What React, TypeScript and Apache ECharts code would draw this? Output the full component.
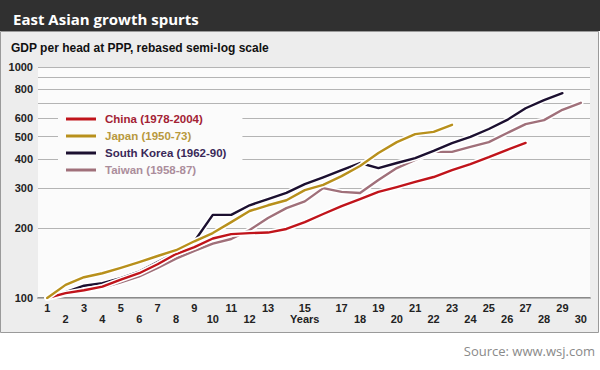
import React, { useEffect, useRef } from "react";
import * as echarts from "echarts";

const years = ["1","2","3","4","5","6","7","8","9","10","11","12","13","14","15","16","17","18","19","20","21","22","23","24","25","26","27","28","29","30"];

const china = [100,105,108,112,120,128,140,155,166,181,189,191,192,199,213,231,250,268,288,302,318,334,358,380,407,438,469];
const japan = [100,114,123,128,135,143,152,161,176,191,213,238,252,265,293,309,337,373,424,473,512,524,562];
const southKorea = [100,106,113,116,122,130,143,157,176,229,229,252,268,285,311,333,358,384,365,384,403,433,468,498,539,590,663,719,770];
const taiwan = [100,104,108,111,117,124,135,148,160,172,180,197,222,245,262,299,288,285,324,365,396,429,429,451,473,518,566,589,653,700];

const gridValues = [100,200,300,400,500,600,700,800,900,1000];
const labelledValues = [100,200,300,400,500,600,800,1000];

const seriesNames = ["China (1978-2004)","Japan (1950-73)","South Korea (1962-90)","Taiwan (1958-87)"];
const lineColors = ["#c0141b","#b8901c","#1c1030","#a0707a"];
const legendTextColors = ["#a32234","#b8993e","#3a2858","#ab8d9b"];

export default function App() {
  const ref = useRef<HTMLDivElement>(null);
  useEffect(() => {
    if (!ref.current) return;
    const chart = echarts.init(ref.current, null, { renderer: "svg" });
    const font = "Liberation Sans";
    const datasets = [taiwan, southKorea, china, japan];
    const idx = [3, 2, 0, 1];
    const series: any[] = [
      {
        name: "gridlines",
        type: "line",
        data: [],
        z: 1,
        silent: true,
        markLine: {
          z: 1,
          silent: true,
          symbol: ["none", "none"],
          animation: false,
          lineStyle: { color: "#b4b4b4", width: 1, type: "solid" },
          label: {
            position: "start",
            distance: 5,
            color: "#222",
            fontWeight: "bold",
            fontSize: 11,
            fontFamily: font,
            formatter: (p: any) => (labelledValues.indexOf(p.value) >= 0 ? String(p.value) : ""),
          },
          emphasis: { disabled: true },
          data: gridValues.map((v) => ({ yAxis: v })),
        },
      },
    ];
    datasets.forEach((d, k) => {
      const i = idx[k];
      series.push({
        name: seriesNames[i] + " halo",
        type: "line",
        data: d,
        z: 2 + k * 2,
        silent: true,
        showSymbol: false,
        symbol: "none",
        lineStyle: { color: "#ffffff", width: 5.5, cap: "round", join: "round" },
        itemStyle: { color: "#ffffff" },
      });
      series.push({
        name: seriesNames[i],
        type: "line",
        data: d,
        z: 3 + k * 2,
        showSymbol: false,
        symbol: "none",
        lineStyle: { color: lineColors[i], width: 2.4, cap: "round", join: "round" },
        itemStyle: { color: lineColors[i] },
      });
    });

    chart.setOption({
      animation: false,
      backgroundColor: "#ffffff",
      title: [
        {
          text: "East Asian growth spurts",
          left: 8,
          top: 6,
          textStyle: { color: "#ffffff", fontSize: 15, fontWeight: "bold", fontFamily: "Open Sans" },
        },
        {
          text: "GDP per head at PPP, rebased semi-log scale",
          left: 6,
          top: 37,
          textStyle: { color: "#111", fontSize: 12, fontWeight: "bold", fontFamily: font },
        },
      ],
      graphic: [
        { type: "rect", z: -10, shape: { x: 0, y: 0, width: 600, height: 31 }, style: { fill: "#303030" } },
        { type: "rect", z: -10, shape: { x: 0.5, y: 31.5, width: 598, height: 301 }, style: { fill: "#ededed", stroke: "#9a9a9a", lineWidth: 1 } },
        {
          type: "text",
          z: 10,
          x: 595,
          y: 344,
          style: { text: "Source: www.wsj.com", fill: "#8a8a8a", fontSize: 13, fontFamily: "Open Sans", align: "right" },
        },
      ],
      legend: {
        z: 20,
        left: 58,
        top: 108,
        orient: "vertical",
        itemWidth: 30,
        itemHeight: 3,
        itemGap: 5,
        icon: "rect",
        padding: [5, 16, 5, 8],
        backgroundColor: "#fbfbfb",
        selectedMode: false,
        textStyle: { fontSize: 11.5, fontWeight: "bold", fontFamily: font, padding: [0, 0, 0, 4] },
        data: seriesNames.map((n, i) => ({ name: n, textStyle: { color: legendTextColors[i] } })),
      },
      grid: {
        left: 38,
        right: 10,
        top: 67,
        bottom: 72,
        show: true,
        backgroundColor: "#fbfbfb",
        borderWidth: 0,
      },
      xAxis: {
        type: "category",
        data: years,
        boundaryGap: true,
        axisLine: { lineStyle: { color: "#666", width: 1.5 } },
        axisTick: { inside: true, length: 7, interval: 0, lineStyle: { color: "#555" } },
        axisLabel: {
          interval: 0,
          margin: 4,
          color: "#222",
          fontSize: 11,
          fontWeight: "bold",
          fontFamily: font,
          lineHeight: 11,
          formatter: (v: string) => {
            const n = Number(v);
            if (n === 14 || n === 16) return "";
            if (n === 15) return "15\nYears";
            return n % 2 === 1 ? v : "\n" + v;
          },
        },
        splitLine: { show: false },
      },
      yAxis: {
        type: "log",
        logBase: 10,
        min: 100,
        max: 1000,
        axisLine: { show: false },
        axisTick: { show: false },
        axisLabel: { show: false },
        splitLine: { show: false },
      },
      series,
    });
    return () => chart.dispose();
  }, []);
  return <div ref={ref} style={{ position: "fixed", left: 0, top: 0, width: 600, height: 370 }} />;
}
